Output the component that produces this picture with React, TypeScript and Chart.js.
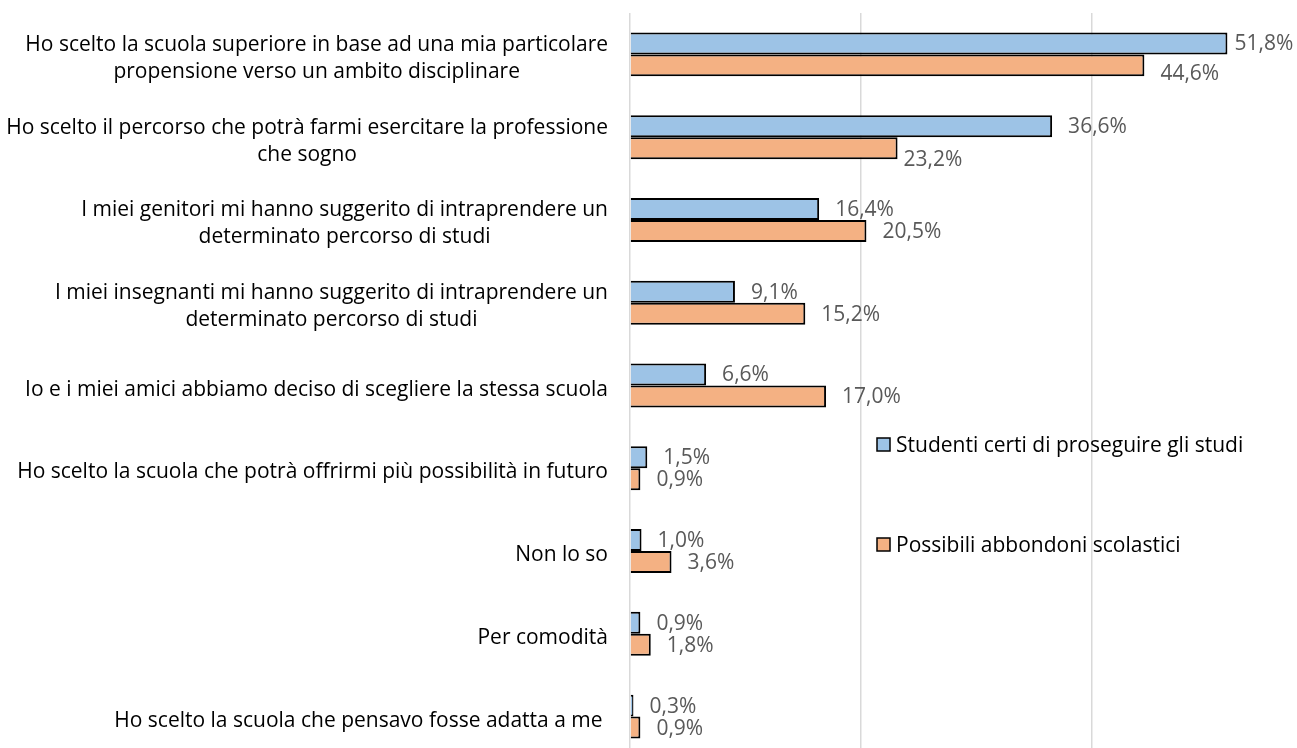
import React, { useEffect, useRef } from "react";
import { Chart, registerables } from "chart.js";

Chart.register(...registerables);

// ---- data ----
const categories: string[][] = [
  ["Ho scelto la scuola superiore in base ad una mia particolare", "propensione verso un ambito disciplinare"],
  ["Ho scelto il percorso che potrà farmi esercitare la professione", "che sogno"],
  ["I miei genitori mi hanno suggerito di intraprendere un", "determinato percorso di studi"],
  ["I miei insegnanti mi hanno suggerito di intraprendere un", "determinato percorso di studi"],
  ["Io e i miei amici abbiamo deciso di scegliere la stessa scuola"],
  ["Ho scelto la scuola che potrà offrirmi più possibilità in futuro"],
  ["Non lo so"],
  ["Per comodità"],
  ["Ho scelto la scuola che pensavo fosse adatta a me "],
];
const studenti: number[] = [51.8, 36.6, 16.4, 9.1, 6.6, 1.5, 1.0, 0.9, 0.3];
const abbandoni: number[] = [44.6, 23.2, 20.5, 15.2, 17.0, 0.9, 3.6, 1.8, 0.9];
const seriesNames: string[] = ["Studenti certi di proseguire gli studi", "Possibili abbondoni scolastici"];
const xMin = 0;
const xMax = 60;
const xStep = 20;

// label nudges (dx, dy) relative to the default outside-end position
const studentiNudge: [number, number][] = [[-9, 0], [0, 0], [0, 0], [0, 0], [0, 0], [0, 0], [0, 0], [0, 0], [0, 0]];
const abbandoniNudge: [number, number][] = [[0, 8], [-10, 11], [0, 0], [0, 0], [0, 0], [0, 0], [0, 0], [0, 0], [0, 0]];

// ---- styles ----
const FONT = '"Open Sans", "DejaVu Sans", sans-serif';
const BLUE = "#9DC3E6";
const ORANGE = "#F4B183";
const fmt = (v: number) => v.toFixed(1).replace(".", ",") + "%";

const yLabelPlugin = {
  id: "yLabels",
  afterDraw(chart: any) {
    const ctx = chart.ctx;
    const yScale = chart.scales.y;
    ctx.save();
    ctx.font = `21px ${FONT}`;
    ctx.fillStyle = "#000000";
    ctx.textBaseline = "alphabetic";
    ctx.textAlign = "center";
    const right = 608;
    const lh = 27;
    categories.forEach((lines, i) => {
      const cy = yScale.getPixelForValue(i);
      const maxW = Math.max(...lines.map((l) => ctx.measureText(l).width));
      const cx = right - maxW / 2;
      lines.forEach((line, j) => {
        const by = cy + 10 - ((lines.length - 1) * lh) / 2 + j * lh;
        ctx.fillText(line, cx, by);
      });
    });
    ctx.restore();
  },
};

const dataLabelPlugin = {
  id: "dataLabels",
  afterDatasetsDraw(chart: any) {
    const ctx = chart.ctx;
    ctx.save();
    ctx.font = `21px ${FONT}`;
    ctx.fillStyle = "#595959";
    ctx.textAlign = "left";
    ctx.textBaseline = "middle";
    chart.data.datasets.forEach((ds: any, di: number) => {
      const meta = chart.getDatasetMeta(di);
      const nudges = di === 0 ? studentiNudge : abbandoniNudge;
      meta.data.forEach((el: any, i: number) => {
        const [dx, dy] = nudges[i];
        ctx.fillText(fmt(ds.data[i]), el.x + 16 + dx, el.y + 1 + dy);
      });
    });
    ctx.restore();
  },
};

const legendPlugin = {
  id: "customLegend",
  afterDraw(chart: any) {
    const ctx = chart.ctx;
    ctx.save();
    ctx.font = `21px ${FONT}`;
    ctx.textAlign = "left";
    ctx.textBaseline = "middle";
    const items = chart.data.datasets;
    const boxX = 877;
    const tops = [438, 538];
    items.forEach((ds: any, i: number) => {
      const top = tops[i];
      ctx.fillStyle = ds.backgroundColor;
      ctx.fillRect(boxX, top, 13, 13);
      ctx.strokeStyle = "#000000";
      ctx.lineWidth = 1.5;
      ctx.strokeRect(boxX, top, 13, 13);
      ctx.fillStyle = "#000000";
      ctx.fillText(ds.label, 896, top + 8);
    });
    ctx.restore();
  },
};

export default function App() {
  const ref = useRef<HTMLCanvasElement | null>(null);
  useEffect(() => {
    if (!ref.current) return;
    const chart = new Chart(ref.current, {
      type: "bar",
      data: {
        labels: categories.map((c) => c.join(" ")),
        datasets: [
          { label: seriesNames[0], data: studenti, backgroundColor: BLUE, borderColor: "#000000", borderWidth: 2 },
          { label: seriesNames[1], data: abbandoni, backgroundColor: ORANGE, borderColor: "#000000", borderWidth: 2 },
        ],
      },
      options: {
        indexAxis: "y",
        responsive: false,
        animation: false,
        events: [],
        layout: { padding: { left: 630, right: 0, top: 13, bottom: 0 } },
        datasets: { bar: { categoryPercentage: 0.531, barPercentage: 1 } },
        plugins: { legend: { display: false }, tooltip: { enabled: false } },
        scales: {
          x: {
            min: xMin,
            max: xMax,
            ticks: { display: false, stepSize: xStep },
            grid: { color: "#D9D9D9", lineWidth: 1.5, drawTicks: false },
            border: { display: false },
            afterFit: (s: any) => {
              s.height = 0;
            },
          },
          y: {
            ticks: { display: false },
            grid: { display: false },
            border: { display: false },
            afterFit: (s: any) => {
              s.width = 0;
            },
          },
        },
      } as any,
      plugins: [yLabelPlugin, dataLabelPlugin, legendPlugin],
    });
    const fonts: any = (document as any).fonts;
    if (fonts && fonts.load) {
      fonts.load(`21px "Open Sans"`).then(() => chart.draw()).catch(() => {});
    }
    return () => chart.destroy();
  }, []);
  return (
    <div style={{ position: "fixed", left: 0, top: 0, width: 1297, height: 748, overflow: "hidden", background: "#fff" }}>
      <canvas ref={ref} width={1322} height={758} style={{ display: "block" }} />
    </div>
  );
}
